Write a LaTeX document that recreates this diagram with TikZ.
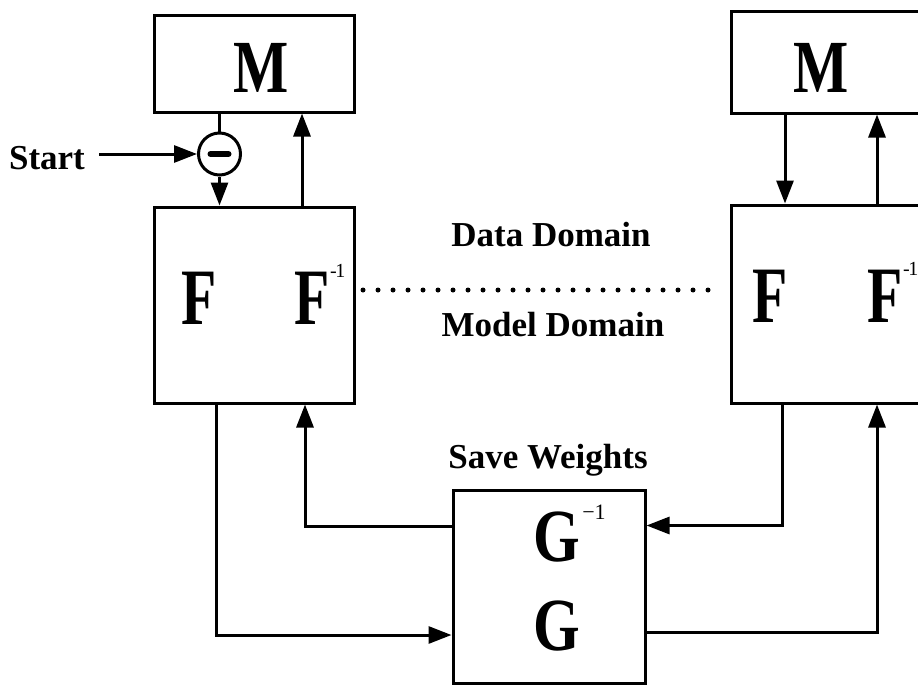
\documentclass[tikz,border=0pt]{standalone}
\usepackage{fontspec}
\usepackage{graphicx}
\setmainfont{Liberation Serif}
\usetikzlibrary{arrows.meta}
\tikzset{
  blockbox/.style={draw, line width=3pt, inner sep=0pt},
  sumnode/.style={draw, circle, line width=3pt, minimum size=42pt, inner sep=0pt},
  arr/.style={line width=3pt, -{Triangle[length=23pt,width=17pt]}},
  wire/.style={line width=3pt},
  lbl/.style={inner sep=0pt, font=\bfseries\fontsize{35}{35}\selectfont},
  bigF/.style={inner sep=0pt, font=\bfseries\fontsize{80}{80}\selectfont},
  bigM/.style={inner sep=0pt, font=\bfseries\fontsize{75}{75}\selectfont},
  bigG/.style={inner sep=0pt, font=\bfseries\fontsize{75}{75}\selectfont},
  dotline/.style={line width=5pt, line cap=round, dash pattern=on 0pt off 15pt}
}
\newcommand{\narrowF}{\scalebox{0.72}[1]{F}}
\newcommand{\narrowM}{\scalebox{0.78}[1]{M}}
\newcommand{\narrowG}{\scalebox{0.8}[1]{G}}
\newcommand{\supF}{\rlap{\smash{\raisebox{47pt}{\mdseries\fontsize{20}{20}\selectfont \kern0.5pt-\kern-1.5pt1}}}}
\newcommand{\supG}{\rlap{\smash{\raisebox{42pt}{\mdseries\fontsize{22}{22}\selectfont \kern2pt−1}}}}
\begin{document}
\begin{tikzpicture}[x=1pt,y=-1pt]
\useasboundingbox[fill=white] (0,0) rectangle (918,685);
% blocks
\node[blockbox, minimum width=200pt, minimum height=96pt] (mL) at (254,64) {};
\node[blockbox, minimum width=200pt, minimum height=196pt] (fL) at (254.5,305) {};
\node[blockbox, minimum width=200pt, minimum height=101.5pt] (mR) at (831,62.25) {};
\node[blockbox, minimum width=200pt, minimum height=198pt] (fR) at (831,304) {};
\node[blockbox, minimum width=192pt, minimum height=193pt] (g) at (549,586.5) {};
\node[sumnode] (sum) at (219.5,154) {};
\draw[line width=6pt, line cap=round] ([xshift=-9pt]sum.center) -- ([xshift=9pt]sum.center);
% letters
\node[bigM] (mLt) at (261,68) {\narrowM};
\node[bigM] (mRt) at (821,68) {\narrowM};
\node[bigF] (fL1) at (199,298) {\narrowF};
\node[bigF] (fL2) at (312,298) {\narrowF\supF};
\node[bigF] (fR1) at (770,296) {\narrowF};
\node[bigF] (fR2) at (885,296) {\narrowF\supF};
\node[bigG] (gi) at (557,537) {\narrowG\supG};
\node[bigG] (gg) at (557,626) {\narrowG};
% labels
\node[lbl] (start) at (47,158) {Start};
\node[lbl] (data) at (551,235) {Data Domain};
\node[lbl] (model) at (553,325) {Model Domain};
\node[lbl] (save) at (548,460) {Save Weights};
% connectors
\draw[wire] (sum.north) -- (sum.north |- mL.south);
\draw[arr] ([xshift=14pt]start.east |- sum.west) -- (sum.west);
\draw[arr] (sum.south) -- (sum.south |- fL.north);
\draw[arr] ([xshift=47.5pt]fL.north) -- ([xshift=47.5pt]fL.north |- mL.south);
\draw[arr] ([xshift=-46pt]mR.south) -- ([xshift=-46pt]mR.south |- fR.north);
\draw[arr] ([xshift=46pt]fR.north) -- ([xshift=46pt]fR.north |- mR.south);
\draw[arr] ([xshift=-38.5pt]fL.south) |- ([yshift=-48.5pt]g.west);
\draw[arr] ([yshift=60pt]g.west) -| ([xshift=50.5pt]fL.south);
\draw[arr] ([xshift=-49pt]fR.south) |- ([yshift=61pt]g.east);
\draw[arr] ([yshift=-46pt]g.east) -| ([xshift=46pt]fR.south);
\draw[dotline, shorten <=7pt, shorten >=9pt] ([yshift=15pt]fL.east) -- ([yshift=14pt]fR.west);
\end{tikzpicture}
\end{document}
